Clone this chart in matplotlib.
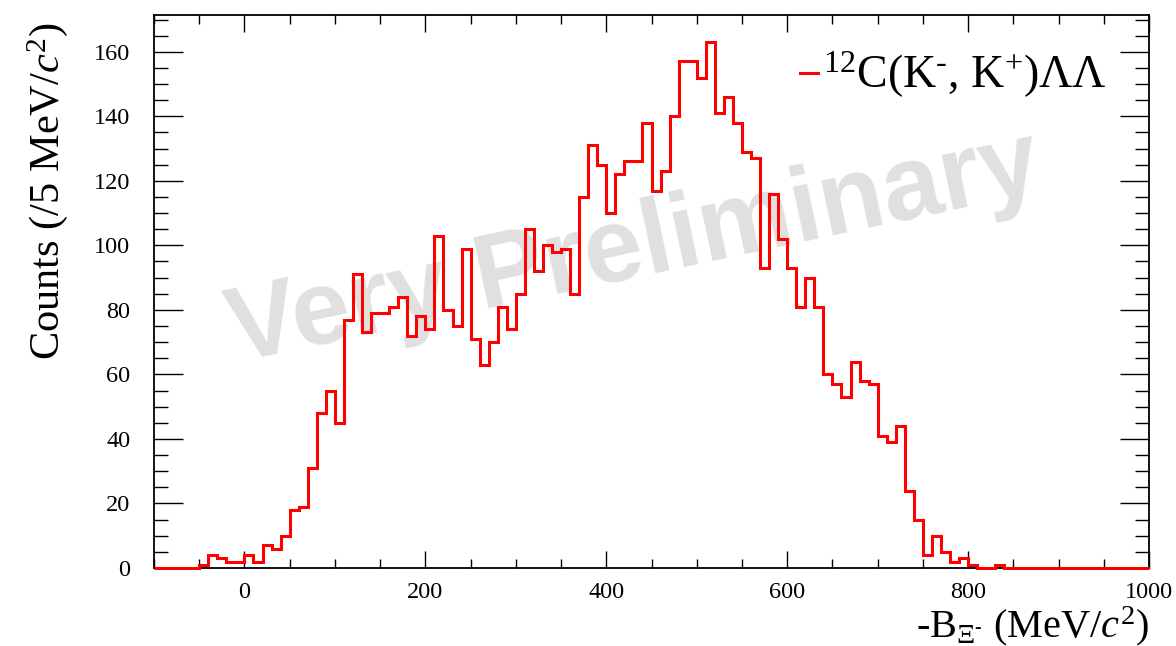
import matplotlib
matplotlib.use("Agg")
import matplotlib.pyplot as plt
import numpy as np
from matplotlib.ticker import MultipleLocator
from matplotlib.lines import Line2D

# -B_Xi binning: 10 MeV bins from -100 to 1000
edges = np.arange(-100, 1001, 10)
counts = [0, 0, 0, 0, 0,
          1, 4, 3, 2, 2,
          4, 2, 7, 6, 10, 18, 19, 31, 48, 55,
          45, 77, 91, 73, 79, 79, 81, 84, 72, 78,
          74, 103, 80, 75, 99, 71, 63, 70, 81, 74,
          85, 105, 92, 100, 98, 99, 85, 115, 131, 125,
          110, 122, 126, 126, 138, 117, 123, 140, 157, 157,
          152, 163, 141, 146, 138, 129, 127, 93, 116, 102,
          93, 81, 90, 81, 60, 57, 53, 64, 58, 57,
          41, 39, 44, 24, 15, 4, 10, 5, 2, 3,
          1, 0, 0, 1, 0, 0, 0, 0, 0, 0,
          0, 0, 0, 0, 0, 0, 0, 0, 0, 0]

plt.rcParams['font.family'] = ['Liberation Serif', 'DejaVu Serif']
plt.rcParams['mathtext.fontset'] = 'custom'
plt.rcParams['mathtext.rm'] = 'Liberation Serif'
plt.rcParams['mathtext.it'] = 'Liberation Serif:italic'
plt.rcParams['mathtext.bf'] = 'Liberation Serif:bold'

fig = plt.figure(figsize=(11.76, 6.46), dpi=100)
ax = fig.add_axes([154 / 1176, 1 - 568 / 646, 995 / 1176, 553 / 646])

ax.stairs(counts, edges, color='red', linewidth=2.2, zorder=5, clip_on=False)

ax.set_xlim(-100, 1000)
ax.set_ylim(0, 171.4)

ax.xaxis.set_major_locator(MultipleLocator(200))
ax.xaxis.set_minor_locator(MultipleLocator(50))
ax.yaxis.set_major_locator(MultipleLocator(20))
ax.yaxis.set_minor_locator(MultipleLocator(5))
ax.tick_params(axis='x', which='major', direction='in', top=True, length=12, width=1, labelsize=17.5, pad=10)
ax.tick_params(axis='x', which='minor', direction='in', top=True, length=6.5, width=1)
ax.tick_params(axis='y', which='major', direction='in', right=True, length=21, width=1, labelsize=17.5, pad=17)
ax.tick_params(axis='y', which='minor', direction='in', right=True, length=10, width=1)
for s in ax.spines.values():
    s.set_linewidth(1.3)

# watermark
ax.text(0.482, 0.575, 'Very Preliminary', transform=ax.transAxes, rotation=12,
        ha='center', va='center', fontsize=76, fontweight='bold',
        family='Liberation Sans', color='#e0e0e0', zorder=1)

# axis titles
fig.text(1149 / 1176, 1 - 626 / 646, r'-B$_{\Xi^{\text{-}}}$ (MeV/$c^{2}$)',
         ha='right', va='center', fontsize=29)
fig.text(48 / 1176, 1 - 22 / 646, r'Counts (/5 MeV/$c^{2}$)',
         rotation=90, ha='center', va='top', fontsize=30.5)

# legend entry
fig.add_artist(Line2D([800 / 1176, 818 / 1176], [1 - 73 / 646, 1 - 73 / 646],
                      color='red', linewidth=2.2))
fig.text(823 / 1176, 1 - 75 / 646, r'$^{12}$C(K$^{\text{-}}$, K$^{+}$)ΛΛ',
         ha='left', va='center', fontsize=33)

fig.savefig('out.png', dpi=100)
